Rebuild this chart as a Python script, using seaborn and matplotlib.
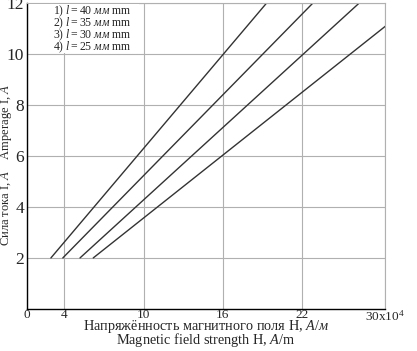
import matplotlib
matplotlib.use('Agg')
import matplotlib.pyplot as plt
from matplotlib.patches import Rectangle
import seaborn as sns
import pandas as pd

# length of the sample, field strength (x10^4 A/m) at the first and last point, current (A)
lengths = ["40", "35", "30", "25"]
h_start = [3.0, 3.9, 5.2, 6.2]
h_end = [19.3, 22.8, 26.3, 28.3]
i_start = [2, 2, 2, 2]
i_end = [12, 12, 12, 11.1]

x_ticks = [1.2, 4, 10, 16, 22, 28.25]
x_labels = ["0", "4", "10", "16", "22", "30x10$^4$"]
y_ticks = [2, 4, 6, 8, 10, 12]

rows = []
for n, l in enumerate(lengths):
    rows.append({"line": l, "H": h_start[n], "I": i_start[n]})
    rows.append({"line": l, "H": h_end[n], "I": i_end[n]})
df = pd.DataFrame(rows)

sns.set_style("whitegrid")
plt.rcParams['font.family'] = ['Liberation Serif', 'DejaVu Serif']
plt.rcParams['mathtext.fontset'] = 'custom'
plt.rcParams['mathtext.rm'] = 'Liberation Serif'
plt.rcParams['mathtext.it'] = 'Liberation Serif:italic'

fig = plt.figure(figsize=(4.17, 3.51), dpi=100)
ax = fig.add_axes([0.065, 0.12, 0.858, 0.871])

sns.lineplot(data=df, x="H", y="I", units="line", estimator=None,
             color="#333333", linewidth=1.0, ax=ax)

ax.set_xlim(x_ticks[0], x_ticks[-1])
ax.set_ylim(0, 12)
ax.set_xticks(x_ticks)
ax.set_xticklabels(x_labels, fontsize=9.5)
ax.set_yticks(y_ticks)
ax.set_yticklabels([str(v) for v in y_ticks], fontsize=12.5)
ax.grid(True, color="#b0b0b0", linewidth=0.8)
ax.tick_params(direction="in", length=5, width=1, color="black", pad=2)
ax.tick_params(axis="x", pad=0)

for s in ["left", "bottom"]:
    ax.spines[s].set_color("black")
    ax.spines[s].set_linewidth(1.0)
for s in ["top", "right"]:
    ax.spines[s].set_color("#b0b0b0")
    ax.spines[s].set_linewidth(0.8)

ax.set_xlabel("Напряжённость магнитного поля H, $\\mathit{A/м}$\nMagnetic field strength H, $\\mathit{A/}$m",
              fontsize=10.3, linespacing=0.72, labelpad=-4)
ax.set_ylabel("Сила тока I, $\\mathit{A}$    Amperage I, $\\mathit{A}$", fontsize=9)
ax.yaxis.set_label_coords(-0.036, 0.47)

# white patch behind the legend lines
ax.add_patch(Rectangle((0.004, 0.838), 0.31, 0.158, transform=ax.transAxes,
                       facecolor="white", edgecolor="none", zorder=4))
legend_y = [0.974, 0.935, 0.896, 0.857]
for n, l in enumerate(lengths):
    ax.text(0.073, legend_y[n], f"{n + 1}) $\\mathit{{l{{=}}{l}\\ мм}}$ mm", transform=ax.transAxes,
            fontsize=8.5, va="center", ha="left", zorder=5)

fig.savefig("out.png", dpi=100)
plt.close(fig)
